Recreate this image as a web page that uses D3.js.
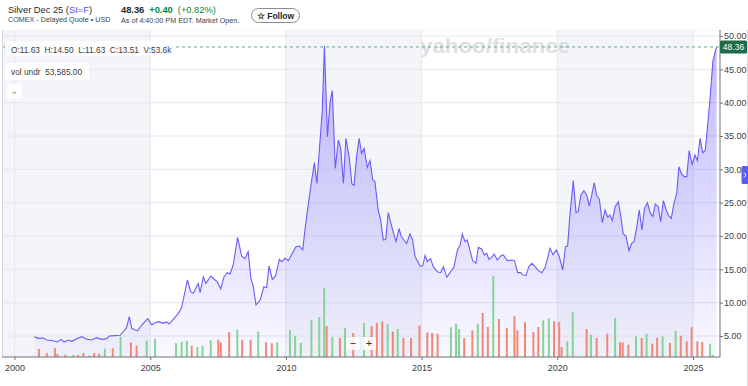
<!DOCTYPE html>
<html><head><meta charset="utf-8">
<script src="https://cdn.jsdelivr.net/npm/d3@7/dist/d3.min.js"></script>
<style>
html,body{margin:0;padding:0;background:#fff;}
svg{display:block;font-family:"Liberation Sans",Arial,Helvetica,sans-serif;}
</style></head>
<body><svg id="c" width="748" height="386"></svg>
<script>
// ---- data ----
const priceYears = [2000.73,2000.88,2001.06,2001.19,2001.43,2001.58,2001.71,2001.83,2001.98,2002.11,2002.29,2002.48,2002.66,2002.84,2003.03,2003.21,2003.40,2003.49,2003.70,2003.89,2004.03,2004.13,2004.23,2004.32,2004.44,2004.54,2004.69,2004.91,2005.06,2005.14,2005.30,2005.48,2005.61,2005.70,2005.85,2006.04,2006.16,2006.37,2006.49,2006.59,2006.77,2006.84,2006.96,2007.05,2007.24,2007.39,2007.47,2007.60,2007.72,2007.84,2007.94,2008.06,2008.22,2008.37,2008.49,2008.61,2008.71,2008.80,2008.90,2009.05,2009.19,2009.29,2009.38,2009.50,2009.62,2009.76,2009.85,2009.97,2010.09,2010.21,2010.37,2010.49,2010.62,2010.70,2010.83,2010.95,2011.05,2011.14,2011.26,2011.34,2011.42,2011.53,2011.63,2011.71,2011.82,2011.93,2012.02,2012.12,2012.21,2012.33,2012.43,2012.51,2012.61,2012.70,2012.79,2012.88,2013.00,2013.10,2013.20,2013.28,2013.40,2013.49,2013.59,2013.68,2013.77,2013.87,2013.96,2014.06,2014.17,2014.24,2014.35,2014.45,2014.57,2014.67,2014.76,2014.86,2014.94,2015.04,2015.13,2015.21,2015.33,2015.43,2015.58,2015.70,2015.80,2015.93,2016.07,2016.19,2016.32,2016.42,2016.50,2016.60,2016.68,2016.78,2016.88,2017.00,2017.09,2017.21,2017.31,2017.40,2017.48,2017.58,2017.67,2017.79,2017.91,2018.01,2018.16,2018.32,2018.42,2018.54,2018.65,2018.73,2018.85,2018.95,2019.06,2019.18,2019.30,2019.43,2019.55,2019.63,2019.73,2019.84,2019.97,2020.08,2020.20,2020.30,2020.38,2020.47,2020.59,2020.69,2020.77,2020.87,2020.98,2021.08,2021.18,2021.27,2021.36,2021.45,2021.55,2021.66,2021.76,2021.86,2021.94,2022.03,2022.13,2022.25,2022.35,2022.43,2022.53,2022.64,2022.74,2022.83,2022.93,2023.02,2023.12,2023.21,2023.32,2023.42,2023.52,2023.61,2023.72,2023.81,2023.91,2024.01,2024.11,2024.20,2024.30,2024.40,2024.48,2024.58,2024.68,2024.77,2024.86,2024.97,2025.07,2025.16,2025.26,2025.36,2025.45,2025.54,2025.63,2025.73,2025.81,2025.87];
const priceValues = [4.9,4.65,4.7,4.4,4.3,4.1,4.5,4.1,4.4,4.2,4.6,4.9,4.5,4.4,4.75,4.5,4.6,5.0,5.05,5.1,5.75,6.25,7.9,6.15,5.9,5.8,6.65,7.6,6.65,6.9,7.15,6.9,7.1,6.8,7.5,8.4,9.3,13.4,11.65,11.4,12.9,11.5,13.9,12.9,14.0,13.4,13.15,12.05,13.9,14.5,14.3,15.65,19.8,17.0,16.6,17.65,13.65,12.4,9.65,10.4,12.4,12.25,15.5,13.5,14.0,16.5,16.15,16.65,16.3,17.2,18.4,18.5,17.9,20.9,24.9,28.4,31.0,27.9,34.4,38.9,48.5,34.9,40.15,41.8,30.15,34.4,33.15,27.9,34.65,31.9,27.8,27.6,32.15,34.65,32.4,33.15,30.3,31.3,28.4,28.15,23.9,22.4,19.4,19.5,23.5,21.9,20.5,19.15,21.15,20.0,19.4,18.9,20.3,19.4,16.9,16.15,15.5,15.5,17.1,16.15,16.6,15.4,14.65,14.5,15.4,13.8,14.65,15.3,17.9,18.65,20.3,19.15,19.4,17.9,16.3,15.9,18.3,18.05,17.15,17.4,16.5,16.8,17.3,16.4,17.0,17.15,16.3,16.4,16.3,14.5,14.5,14.15,14.1,15.4,15.9,15.4,14.8,14.5,15.3,16.5,18.15,17.2,17.9,16.8,14.9,18.4,18.5,23.4,28.3,23.5,23.65,26.15,26.8,26.15,24.5,26.15,28.0,26.15,25.5,22.0,23.9,22.8,23.15,22.3,24.4,25.15,22.65,20.3,20.0,17.8,18.9,19.15,21.4,23.9,20.9,24.15,25.0,23.5,22.9,24.8,24.4,22.15,25.3,23.9,23.0,22.65,24.9,26.4,30.4,29.3,28.9,28.9,32.8,30.65,32.15,31.3,34.65,32.5,32.8,36.65,40.65,46.15,47.5,48.36];

const volYears = [2000.90,2001.19,2001.49,2001.58,2001.87,2002.17,2002.35,2002.54,2002.76,2002.94,2003.12,2003.33,2003.62,2003.91,2004.29,2004.50,2004.87,2005.18,2005.95,2006.16,2006.35,2006.53,2006.74,2006.93,2007.23,2007.51,2007.60,2007.91,2008.21,2008.39,2008.70,2008.98,2009.27,2009.48,2009.68,2009.97,2010.15,2010.34,2010.55,2010.94,2011.23,2011.41,2011.50,2011.71,2011.99,2012.18,2012.48,2012.88,2013.16,2013.35,2013.55,2013.75,2013.94,2014.12,2014.33,2014.61,2014.92,2015.21,2015.39,2015.59,2016.08,2016.27,2016.38,2016.57,2016.87,2017.07,2017.25,2017.44,2017.64,2017.85,2018.14,2018.42,2018.53,2018.81,2019.12,2019.30,2019.48,2019.69,2019.88,2020.07,2020.16,2020.37,2020.57,2021.08,2021.24,2021.45,2021.84,2022.13,2022.31,2022.41,2022.62,2022.90,2023.11,2023.29,2023.50,2023.68,2023.88,2024.15,2024.36,2024.55,2024.77,2024.95,2025.16,2025.34,2025.63,2025.73];
const volValues = [8,4,9,3,2.3,2.3,2,4,1.3,4,3.3,8.3,8.7,20,14.7,11.3,16.3,18.3,14,15.3,16.3,11.3,10,11.3,16.7,17.3,14.7,25,27.3,17.3,17.3,25.3,14.7,13.7,14.7,1.3,27,21,14,37,40,69,31,20,19,29,24,34,31,34,35.5,33,25.5,28,19,19,31.5,24.5,24,23.3,29.7,33.3,28,19,26.7,33.3,44,30,81,38,29,40.7,26.7,34.7,25,30,36.7,38.7,35.7,35,10,15.7,44.7,28,22.3,19,23.3,39,14.7,14.7,12.3,20.7,19,23.3,13.3,19,20.7,14,26.3,21.3,15.7,30,15.7,15,13.3,2.3];
const volUp = [0,0,0,0,0,1,0,0,0,0,0,1,0,1,0,0,1,1,1,1,1,0,1,1,1,0,0,0,1,0,0,1,0,0,1,1,1,1,1,1,1,1,0,1,0,1,0,1,0,0,0,1,0,1,0,0,0,0,0,0,1,1,1,0,0,1,0,0,1,0,0,0,0,0,0,0,1,1,0,0,0,1,1,0,1,0,0,1,0,0,0,1,0,1,0,0,1,0,1,0,0,0,0,0,1,1];

const yearTicks = [2000,2005,2010,2015,2020,2025];
const priceTicks = [5,10,15,20,25,30,35,40,45,50];
const lastPrice = 48.36;

// ---- layout ----
const L = 2, R = 720, T = 30, B = 357;
const svg = d3.select("#c");
const x = d3.scaleLinear().domain([2000, 2025]).range([14.5, 693]);
const y = d3.scaleLinear().domain([5, 50]).range([336, 36]);
const yv = d3.scaleLinear().domain([0, 100]).range([B, B - 100]);

// bands
const bands = [[x.invert(L), 2005], [2010, 2015], [2020, 2025]];
svg.append("g").selectAll("rect").data(bands).join("rect")
  .attr("x", d => Math.max(L, x(d[0]))).attr("y", T)
  .attr("width", d => x(d[1]) - Math.max(L, x(d[0]))).attr("height", B - T)
  .attr("fill", "#f4f5f9");

// grid
svg.append("g").selectAll("line").data(priceTicks).join("line")
  .attr("x1", L).attr("x2", R).attr("y1", d => y(d)).attr("y2", d => y(d))
  .attr("stroke", "#e4e6ec").attr("stroke-width", 1);
svg.append("g").selectAll("line").data(yearTicks).join("line")
  .attr("x1", d => x(d)).attr("x2", d => x(d)).attr("y1", T).attr("y2", B)
  .attr("stroke", "#e4e6ee").attr("stroke-width", 1);

// watermark
svg.append("text").attr("x", 420).attr("y", 53).text("yahoo/finance")
  .attr("font-size", 21).attr("font-weight", "bold").attr("fill", "#dedfe5")
  .attr("textLength", 150).attr("lengthAdjust", "spacingAndGlyphs");

// gradient
const defs = svg.append("defs");
const g = defs.append("linearGradient").attr("id", "ag")
  .attr("gradientUnits", "userSpaceOnUse").attr("x1", 0).attr("x2", 0).attr("y1", T).attr("y2", B);
g.append("stop").attr("offset", 0).attr("stop-color", "#7467ff").attr("stop-opacity", 0.48);
g.append("stop").attr("offset", 1).attr("stop-color", "#7467ff").attr("stop-opacity", 0.04);

const pts = priceYears.map((yr, i) => [yr, priceValues[i]]);
svg.append("path").datum(pts)
  .attr("d", d3.area().x(d => x(d[0])).y0(B).y1(d => y(d[1])))
  .attr("fill", "url(#ag)");

// volume bars
const vol = volYears.map((yr, i) => ({yr, v: volValues[i], up: volUp[i]}));
svg.append("g").selectAll("rect").data(vol).join("rect")
  .attr("x", d => x(d.yr) - 1).attr("width", 2)
  .attr("y", d => yv(d.v)).attr("height", d => B - yv(d.v))
  .attr("fill", d => d.up ? "#85d399" : "#f08779");

// line
svg.append("path").datum(pts)
  .attr("d", d3.line().x(d => x(d[0])).y(d => y(d[1])))
  .attr("fill", "none").attr("stroke", "#6b5cf7").attr("stroke-width", 1.1);

// dashed last price line
svg.append("line").attr("x1", L).attr("x2", R).attr("y1", y(lastPrice)).attr("y2", y(lastPrice))
  .attr("stroke", "#62a987").attr("stroke-width", 1).attr("stroke-dasharray", "3,3");

// frame lines
svg.append("line").attr("x1", L + 0.5).attr("x2", L + 0.5).attr("y1", T).attr("y2", B).attr("stroke", "#d5d7dd");
svg.append("line").attr("x1", 0).attr("x2", 748).attr("y1", T).attr("y2", T).attr("stroke", "#eceef2");
svg.append("line").attr("x1", 747.5).attr("x2", 747.5).attr("y1", T).attr("y2", 386).attr("stroke", "#d9dbe2");

// axes
const ax = svg.append("g").attr("transform", `translate(0,${B})`)
  .call(d3.axisBottom(x).tickValues(yearTicks).tickFormat(d3.format("d")).tickSize(3).tickSizeOuter(0));
ax.select(".domain").remove();
ax.append("line").attr("x1", L).attr("x2", R).attr("stroke", "#6e7077");
ax.selectAll(".tick line").attr("stroke", "#6e7077");
ax.selectAll("text").attr("font-size", 9).attr("fill", "#3a3d44").attr("dy", "0.9em")
  .attr("font-family", "'Liberation Sans',Arial,sans-serif");

const ay = svg.append("g").attr("transform", `translate(${R},0)`)
  .call(d3.axisRight(y).tickValues(priceTicks).tickFormat(d3.format(".2f")).tickSize(3).tickSizeOuter(0));
ay.select(".domain").remove();
ay.append("line").attr("y1", T).attr("y2", B).attr("stroke", "#6e7077");
ay.selectAll(".tick line").attr("stroke", "#6e7077");
ay.selectAll("text").attr("font-size", 9).attr("fill", "#3a3d44").attr("x", 4)
  .attr("font-family", "'Liberation Sans',Arial,sans-serif");

// last price label
svg.append("rect").attr("x", 720).attr("y", y(lastPrice) - 6.5).attr("width", 27).attr("height", 13)
  .attr("rx", 1.5).attr("fill", "#1e6c49");
svg.append("text").attr("x", 733.5).attr("y", y(lastPrice) + 3).attr("text-anchor", "middle")
  .attr("font-size", 8.5).attr("fill", "#fff").text(lastPrice.toFixed(2));

// blue side tab (chevron drawn as a path)
svg.append("rect").attr("x", 741.5).attr("y", 166).attr("width", 7).attr("height", 18).attr("rx", 1.5).attr("fill", "#5b5cf0");
svg.append("path").attr("d", "M744,172.5 L746,175 L744,177.5").attr("fill", "none").attr("stroke", "#fff").attr("stroke-width", 0.9);

// OHLC legend
svg.append("rect").attr("x", 7).attr("y", 41).attr("width", 166).attr("height", 15).attr("fill", "#fff").attr("opacity", 0.85);
svg.append("text").attr("x", 11).attr("y", 53).attr("font-size", 8.3).attr("fill", "#3a3d44")
  .attr("xml:space", "preserve").text("O:11.63  H:14.50  L:11.63  C:13.51  V:53.6k");
svg.append("rect").attr("x", 5).attr("y", 63).attr("width", 84).attr("height", 17).attr("rx", 3).attr("fill", "#fff");
svg.append("text").attr("x", 11).attr("y", 75).attr("font-size", 8.3).attr("fill", "#3a3d44")
  .attr("xml:space", "preserve").text("vol undr  53,585.00");
svg.append("rect").attr("x", 7).attr("y", 84).attr("width", 15).attr("height", 15).attr("rx", 3).attr("fill", "#fff");
svg.append("text").attr("x", 14.5).attr("y", 96).attr("text-anchor", "middle").attr("font-size", 8).attr("fill", "#555").text("^");

// zoom buttons
[["−", 353], ["+", 369]].forEach(([s, cx]) => {
  svg.append("rect").attr("x", cx - 7).attr("y", 337).attr("width", 14).attr("height", 13).attr("rx", 2)
    .attr("fill", "#fff").attr("opacity", 0.85);
  svg.append("text").attr("x", cx).attr("y", 347).attr("text-anchor", "middle").attr("font-size", 11)
    .attr("fill", "#333").text(s);
});

// header
svg.append("rect").attr("x", 0).attr("y", 0).attr("width", 748).attr("height", T).attr("fill", "#fff");
const h1 = svg.append("text").attr("x", 8).attr("y", 13).attr("font-size", 9.3).attr("fill", "#232a31");
h1.append("tspan").text("Silver Dec 25 (");
h1.append("tspan").attr("fill", "#4e4df0").text("SI=F");
h1.append("tspan").text(")");
svg.append("text").attr("x", 8).attr("y", 22).attr("font-size", 7.2).attr("fill", "#3b3f46")
  .text("COMEX - Delayed Quote • USD");
const h2 = svg.append("text").attr("x", 121).attr("y", 13).attr("font-size", 9.3);
h2.append("tspan").attr("font-weight", "bold").attr("fill", "#232a31").text("48.36");
h2.append("tspan").attr("dx", 5).attr("fill", "#008a3a").attr("font-weight", "bold").text("+0.40");
h2.append("tspan").attr("dx", 5).attr("fill", "#008a3a").text("(+0.82%)");
svg.append("text").attr("x", 121).attr("y", 23).attr("font-size", 7.2).attr("fill", "#3b3f46")
  .text("As of 4:40:00 PM EDT. Market Open.");
svg.append("rect").attr("x", 251.5).attr("y", 8.5).attr("width", 48).attr("height", 14).attr("rx", 7)
  .attr("fill", "#fff").attr("stroke", "#8a8d94");
svg.append("text").attr("x", 275.5).attr("y", 18.5).attr("text-anchor", "middle").attr("font-size", 8.5)
  .attr("font-weight", "bold").attr("fill", "#232a31").text("☆ Follow");
</script></body></html>
